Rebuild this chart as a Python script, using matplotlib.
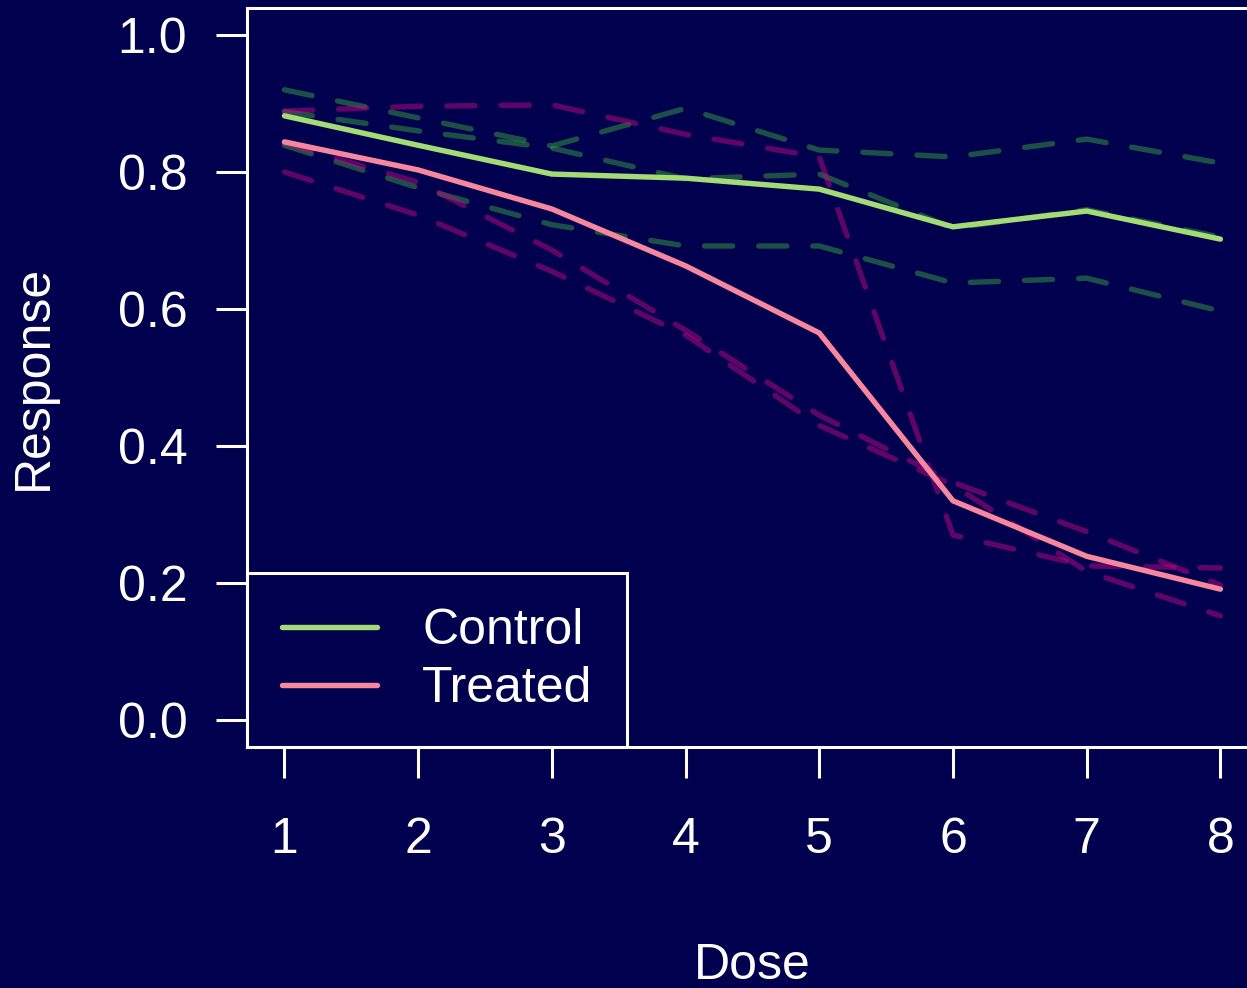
import matplotlib
matplotlib.use("Agg")
import matplotlib.pyplot as plt

# dose levels
dose = [1, 2, 3, 4, 5, 6, 7, 8]

# individual replicates
control_reps = [
    [0.920, 0.879, 0.838, 0.893, 0.832, 0.822, 0.848, 0.813],
    [0.888, 0.860, 0.835, 0.790, 0.797, 0.718, 0.745, 0.705],
    [0.839, 0.777, 0.723, 0.692, 0.692, 0.638, 0.645, 0.597],
]
treated_reps = [
    [0.889, 0.896, 0.898, 0.855, 0.822, 0.270, 0.225, 0.222],
    [0.842, 0.785, 0.686, 0.569, 0.445, 0.347, 0.275, 0.197],
    [0.800, 0.737, 0.655, 0.562, 0.430, 0.343, 0.217, 0.152],
]

# group means
control_mean = [0.882, 0.839, 0.797, 0.791, 0.775, 0.720, 0.743, 0.702]
treated_mean = [0.844, 0.803, 0.746, 0.663, 0.565, 0.320, 0.239, 0.191]

labels = ["Control", "Treated"]
yticks = [0.0, 0.2, 0.4, 0.6, 0.8, 1.0]

bg = "#01004f"
fg = "white"
fs = 36
plt.rcParams["font.family"] = ["Liberation Sans", "DejaVu Sans"]

fig = plt.figure(figsize=(12.47, 9.88), dpi=100, facecolor=bg)
ax = fig.add_axes([0.1981, 0.2435, 0.8106, 0.7488], facecolor=bg)

lw = 3.9
dash = (0, (5.2, 4.8))
for rep in control_reps:
    ax.plot(dose, rep, color="#36a040", alpha=0.5, lw=lw, linestyle=dash,
            dash_capstyle="round", dash_joinstyle="round")
for rep in treated_reps:
    ax.plot(dose, rep, color="#bc0a80", alpha=0.5, lw=lw, linestyle=dash,
            dash_capstyle="round", dash_joinstyle="round")

ax.plot(dose, control_mean, color="#a3dc74", lw=lw, solid_capstyle="round",
        solid_joinstyle="round", label=labels[0])
ax.plot(dose, treated_mean, color="#f7879f", lw=lw, solid_capstyle="round",
        solid_joinstyle="round", label=labels[1])

ax.set_xlim(0.72, 8.28)
ax.set_ylim(-0.04, 1.04)
ax.set_xticks(dose)
ax.set_yticks(yticks)
ax.set_yticklabels([f"{v:.1f}" for v in yticks])

for s in ax.spines.values():
    s.set_color(fg)
    s.set_linewidth(2.2)

ax.tick_params(axis="both", colors=fg, labelcolor=fg, labelsize=fs,
               length=22, width=2.2, direction="out")
ax.tick_params(axis="x", pad=28)
ax.tick_params(axis="y", pad=21)

ax.set_xlabel("Dose", color=fg, fontsize=fs, labelpad=58)
ax.set_ylabel("Response", color=fg, fontsize=fs, labelpad=44)

leg = ax.legend(loc="lower left", bbox_to_anchor=(0, 0), borderaxespad=0,
                fontsize=fs, frameon=True, fancybox=False, handlelength=1.9,
                handletextpad=0.9, borderpad=0.7, labelspacing=0.24)
frame = leg.get_frame()
frame.set_facecolor(bg)
frame.set_edgecolor(fg)
frame.set_linewidth(2.2)
frame.set_alpha(1)
for t in leg.get_texts():
    t.set_color(fg)

fig.savefig("out.png", dpi=100, facecolor=bg)
